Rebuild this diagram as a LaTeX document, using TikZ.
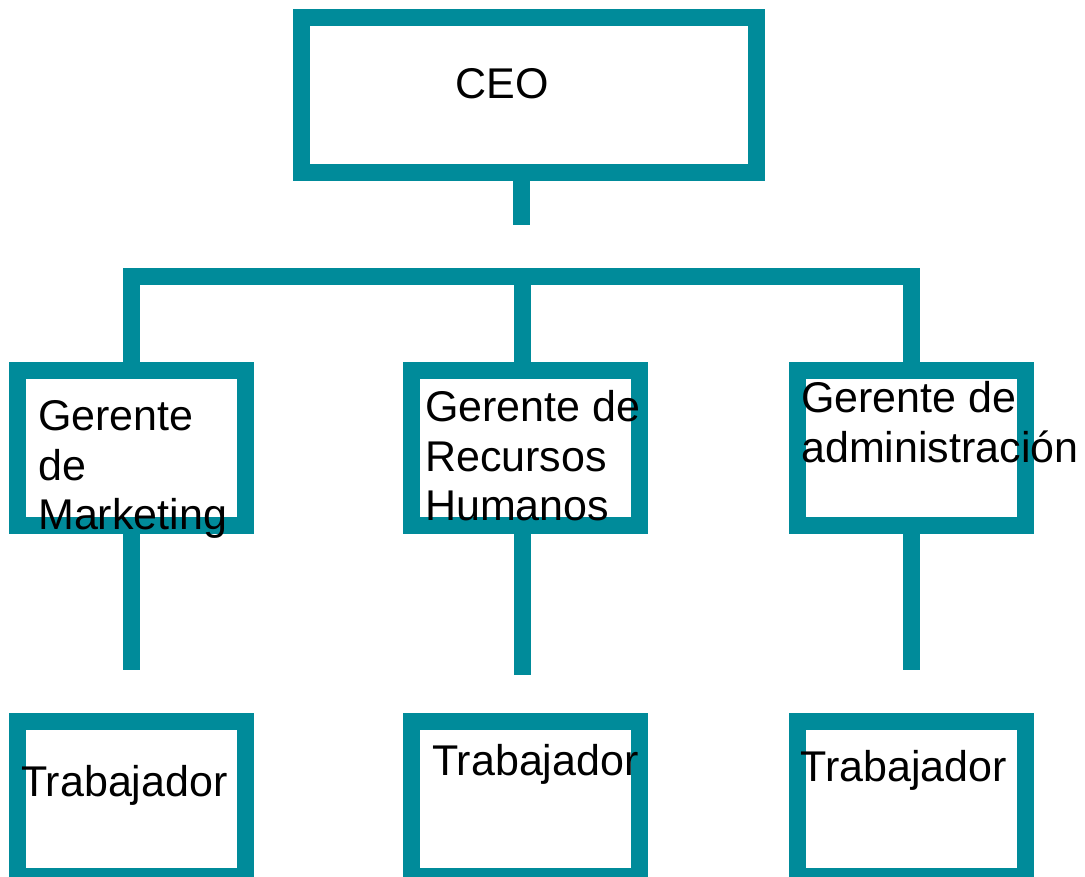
\documentclass[tikz,border=0pt]{standalone}
\usepackage{fontspec}
\setmainfont{Liberation Sans}
\definecolor{tealline}{RGB}{0,139,154}
\begin{document}
\begin{tikzpicture}[x=1pt,y=-1pt,
  orgbox/.style={draw=tealline,line width=17pt,fill=white,rectangle,inner sep=0pt,minimum width=228pt,minimum height=155pt},
  ceobox/.style={orgbox,minimum width=455pt},
  conn/.style={draw=tealline,line width=17pt,line join=miter},
  lbl/.style={anchor=base west,inner sep=0pt,font=\fontsize{43}{49.5}\selectfont,text=black}]
\clip (0,0) rectangle (1085,877);
\fill[white] (0,0) rectangle (1085,877);
% boxes
\node[ceobox] (ceo) at (529,95) {};
\node[orgbox] (mk) at (131.7,448.2) {};
\node[orgbox] (hr) at (525,448.2) {};
\node[orgbox] (ad) at (911.7,448.2) {};
\node[orgbox] (t1) at (131.7,799) {};
\node[orgbox] (t2) at (525,799) {};
\node[orgbox] (t3) at (911.7,799) {};
% junction coordinates
\coordinate (c0) at (521.5,225);
\coordinate (jl) at (131.5,276.5);
\coordinate (jm) at (522,276.5);
\coordinate (jr) at (911.5,276.5);
\coordinate (c1) at (131.5,669.5);
\coordinate (c2) at (522,675);
\coordinate (c3) at (911.5,669.5);
% connectors
\draw[conn] (c0 |- ceo.south) -- (c0);
\draw[conn] (jl |- mk.north) -- (jl) -- (jr) -- (jr |- ad.north);
\draw[conn] (jm) -- (jm |- hr.north);
\draw[conn] (c1 |- mk.south) -- (c1);
\draw[conn] (c2 |- hr.south) -- (c2);
\draw[conn] (c3 |- ad.south) -- (c3);
% texts
\node[lbl] (tceo) at (455.5,99) {CEO};
\node[lbl] (tmk) at (38,431) {\vtop{\hbox{Gerente}\hbox{de}\hbox{Marketing}}};
\node[lbl] (thr) at (425,421.7) {\vtop{\hbox{Gerente de}\hbox{Recursos}\hbox{Humanos}}};
\node[lbl] (tad) at (801,413) {\vtop{\hbox{Gerente de}\hbox{administración}}};
\node[lbl] (tt1) at (21,796.7) {Trabajador};
\node[lbl] (tt2) at (432,775.7) {Trabajador};
\node[lbl] (tt3) at (800.5,781) {Trabajador};
\end{tikzpicture}
\end{document}
